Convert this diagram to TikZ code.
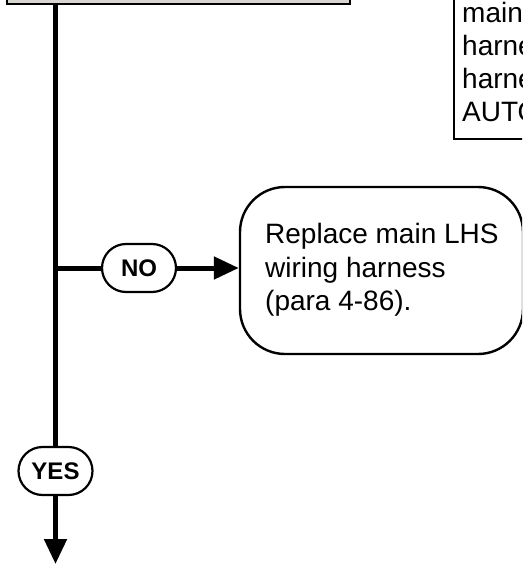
\documentclass[tikz,border=0pt]{standalone}
\usepackage{fontspec}
\setmainfont{Liberation Sans}
\usetikzlibrary{arrows.meta}
\definecolor{boxgray}{HTML}{D8D4D0}
\tikzset{
  flow/.style={line width=5pt, draw=black},
  arrowed/.style={flow, -{Triangle[length=25pt,width=22pt]}},
  answer/.style={draw=black, line width=2.2pt, fill=white, rounded corners=24pt,
    minimum width=74pt, minimum height=48pt, inner sep=0pt,
    font=\fontsize{24}{28}\selectfont\bfseries},
  stepbox/.style={draw=black, line width=2.2pt, inner sep=0pt},
  actionbox/.style={draw=black, line width=2.4pt, fill=white, rounded corners=45pt, inner sep=0pt},
  txt/.style={inner sep=0pt, anchor=base west, font=\fontsize{28}{33}\selectfont}
}
\begin{document}
\begin{tikzpicture}[x=1pt,y=-1pt]
\useasboundingbox (0,0) rectangle (522,564);
\clip (0,0) rectangle (522,564);
% top-left box (cropped)
\node[stepbox, fill=boxgray, minimum width=343pt, minimum height=84pt] (topbox) at (178.5,-38) {};
% top-right box (cropped)
\node[stepbox, fill=white, minimum width=200pt, minimum height=219pt] (infobox) at (554,29.5) {};
\node[txt] (i1) at (462,23) {main};
\node[txt] (i2) at (462,56) {harness};
\node[txt] (i3) at (462,89) {harness};
\node[txt] (i4) at (462,122) {AUTO};
% action box
\node[actionbox, minimum width=283pt, minimum height=167pt] (act) at (381.5,270.5) {};
\node[txt] (a1) at (265,243) {Replace main LHS};
\node[txt] (a2) at (265,277) {wiring harness};
\node[txt] (a3) at (265,310) {(para 4-86).};
% answers
\node[answer] (no) at (139,268) {NO};
\node[answer] (yes) at (55.5,471) {YES};
\coordinate (junc) at (55.5,268);
\coordinate (out) at (55.5,564);
% connectors
\draw[flow] (topbox.south -| yes) -- (yes.north);
\draw[flow] (junc) -- (no.west);
\draw[arrowed] (no.east) -- (no.east -| act.west);
\draw[arrowed] (yes.south) -- (out);
\end{tikzpicture}
\end{document}
